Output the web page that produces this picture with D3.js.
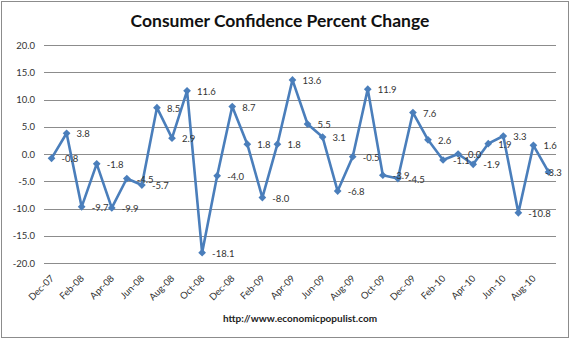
<!DOCTYPE html>
<html>
<head>
<meta charset="utf-8">
<script src="https://cdn.jsdelivr.net/npm/d3@7"></script>
<style>
  body { margin: 0; background: #fff; }
  text { font-family: Lato, "Liberation Sans", sans-serif; }
</style>
</head>
<body>
<div id="chart"></div>
<script>
const months = ["Dec-07","Jan-08","Feb-08","Mar-08","Apr-08","May-08","Jun-08","Jul-08","Aug-08","Sep-08","Oct-08","Nov-08",
  "Dec-08","Jan-09","Feb-09","Mar-09","Apr-09","May-09","Jun-09","Jul-09","Aug-09","Sep-09","Oct-09","Nov-09",
  "Dec-09","Jan-10","Feb-10","Mar-10","Apr-10","May-10","Jun-10","Jul-10","Aug-10","Sep-10"]
const change = [-0.8, 3.8, -9.7, -1.8, -9.9, -4.5, -5.7, 8.5, 2.9, 11.6, -18.1, -4.0,
  8.7, 1.8, -8.0, 1.8, 13.6, 5.5, 3.1, -6.8, -0.5, 11.9, -3.9, -4.5,
  7.6, 2.6, -1.1, 0.0, -1.9, 1.9, 3.3, -10.8, 1.6, -3.3]
const yTicks = [20, 15, 10, 5, 0, -5, -10, -15, -20]
const titleText = "Consumer Confidence Percent Change"
const sourceText = "http://www.economicpopulist.com"

const width = 570, height = 340
const plotLeft = 44, plotRight = 556, plotTop = 45, plotBottom = 263
const lineColor = "#4a7ebb"

const svg = d3.select("#chart").append("svg")
  .attr("width", width).attr("height", height)

svg.append("rect")
  .attr("x", 1.5).attr("y", 1.5)
  .attr("width", width - 3).attr("height", height - 4)
  .attr("fill", "#fff").attr("stroke", "#8c8c8c")

const x = d3.scaleBand().domain(months).range([plotLeft, plotRight])
const y = d3.scaleLinear().domain([-20, 20]).range([plotBottom, plotTop])

// gridlines + y labels
const yAxis = d3.axisLeft(y).tickValues(yTicks).tickSize(plotLeft - plotRight)
  .tickFormat(d => d.toFixed(1)).tickPadding(9)
const gy = svg.append("g").attr("transform", `translate(${plotLeft},0)`).call(yAxis)
gy.select(".domain").remove()
gy.selectAll("line").attr("stroke", "#8c8c8c").attr("shape-rendering", "crispEdges")
gy.selectAll("text").attr("font-size", 9.5).attr("fill", "#333")

// x labels, every other month
const xAxis = d3.axisBottom(x).tickValues(months.filter((m, i) => i % 2 === 0)).tickSize(0)
const gx = svg.append("g").attr("transform", `translate(0,${plotBottom})`).call(xAxis)
gx.select(".domain").remove()
gx.selectAll("text")
  .attr("font-size", 9.5).attr("fill", "#333")
  .attr("text-anchor", "end")
  .attr("dy", 0).attr("y", 0)
  .attr("transform", "translate(3,16) rotate(-45)")

const line = d3.line()
  .x((d, i) => x(months[i]) + x.bandwidth() / 2)
  .y(d => y(d))

svg.append("path").datum(change)
  .attr("d", line)
  .attr("fill", "none")
  .attr("stroke", lineColor)
  .attr("stroke-width", 2.6)
  .attr("stroke-linejoin", "round")

svg.selectAll("path.mark").data(change).enter().append("path")
  .attr("class", "mark")
  .attr("d", d3.symbol(d3.symbolDiamond2, 38))
  .attr("transform", (d, i) => `translate(${x(months[i]) + x.bandwidth() / 2},${y(d)})`)
  .attr("fill", lineColor)

svg.selectAll("text.lab").data(change).enter().append("text")
  .attr("class", "lab")
  .attr("x", (d, i) => Math.min(x(months[i]) + x.bandwidth() / 2 + 10, 545))
  .attr("y", d => y(d) + 4)
  .attr("font-size", 9.5)
  .attr("fill", "#333")
  .text(d => d.toFixed(1))

svg.append("text")
  .attr("x", 280).attr("y", 27)
  .attr("text-anchor", "middle")
  .attr("font-size", 17.5).attr("font-weight", "bold")
  .attr("fill", "#111")
  .text(titleText)

svg.append("text")
  .attr("x", 300).attr("y", 322)
  .attr("text-anchor", "middle")
  .attr("font-size", 10).attr("font-weight", "bold")
  .attr("fill", "#222")
  .text(sourceText)
</script>
</body>
</html>
